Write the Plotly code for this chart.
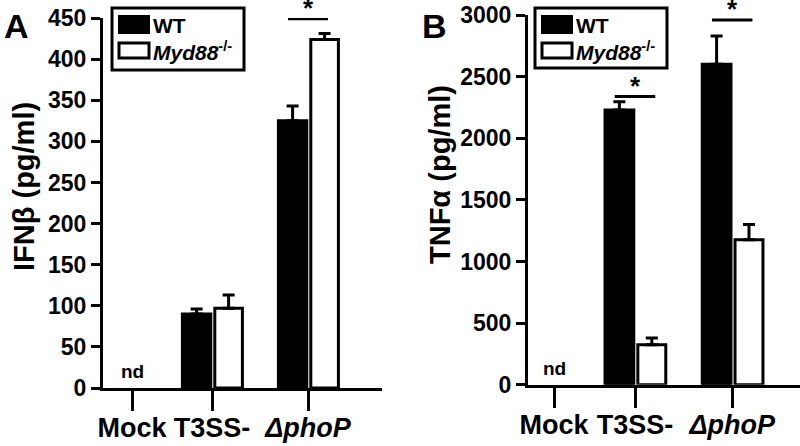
import plotly.graph_objects as go

W, H = 800, 446
FONT = "Liberation Sans, Arial, sans-serif"

# categories
groups = ["Mock", "T3SS-", "<i>ΔphoP</i>"]
group_pos = [0, 1, 2.2]

# panel A: IFN-beta (pg/ml), Mock not detected
ifnb_wt = [None, 90, 325]
ifnb_wt_err = [0, 6, 18]
ifnb_ko = [None, 97, 424]
ifnb_ko_err = [0, 16, 7]

# panel B: TNF-alpha (pg/ml)
tnfa_wt = [None, 2230, 2600]
tnfa_wt_err = [0, 67, 230]
tnfa_ko = [None, 325, 1177]
tnfa_ko_err = [0, 54, 122]

ifnb_ticks = [0, 50, 100, 150, 200, 250, 300, 350, 400, 450]
tnfa_ticks = [0, 500, 1000, 1500, 2000, 2500, 3000]

# significance bars: (group index, height)
ifnb_sig = [(2, 449)]
tnfa_sig = [(1, 2338), (2, 2960)]

series_names = ["WT", "<i>Myd88</i><sup>-/-</sup>"]


def px(x):
    return x / W


def py(y):
    return 1 - y / H


fig = go.Figure()


def add_panel(xa, ya, wt, wt_err, ko, ko_err, sig):
    fig.add_trace(go.Bar(
        x=group_pos, y=wt, xaxis=xa, yaxis=ya, offset=-0.37, width=0.355,
        marker=dict(color="black", line=dict(color="black", width=3)),
        error_y=dict(type="data", array=wt_err, arrayminus=[0] * 3, symmetric=False,
                     color="black", thickness=3, width=6),
        showlegend=False))
    fig.add_trace(go.Bar(
        x=group_pos, y=ko, xaxis=xa, yaxis=ya, offset=0.035, width=0.345,
        marker=dict(color="white", line=dict(color="black", width=3)),
        error_y=dict(type="data", array=ko_err, arrayminus=[0] * 3, symmetric=False,
                     color="black", thickness=3, width=6),
        showlegend=False))
    for gi, h in sig:
        c = group_pos[gi]
        fig.add_trace(go.Scatter(
            x=[c - 0.25, c + 0.25], y=[h, h], xaxis=xa, yaxis=ya, mode="lines",
            line=dict(color="black", width=3), cliponaxis=False, showlegend=False,
            hoverinfo="skip"))
        fig.add_annotation(x=c, y=h, xref=xa, yref=ya, text="*", showarrow=False,
                           yanchor="bottom", yshift=-6,
                           font=dict(family=FONT, size=26, color="black", weight="bold"))
    fig.add_annotation(x=group_pos[0], y=0, xref=xa, yref=ya, text="nd", showarrow=False,
                       yanchor="bottom", yshift=4,
                       font=dict(family=FONT, size=19, color="black", weight="bold"))


add_panel("x", "y", ifnb_wt, ifnb_wt_err, ifnb_ko, ifnb_ko_err, ifnb_sig)
add_panel("x2", "y2", tnfa_wt, tnfa_wt_err, tnfa_ko, tnfa_ko_err, tnfa_sig)

tickfont = dict(family=FONT, size=23, color="black", weight="bold")
catfont = dict(family=FONT, size=27, color="black", weight="bold")

xcommon = dict(tickmode="array", tickvals=group_pos, ticktext=groups, ticks="outside",
               ticklen=20, tickwidth=3, tickcolor="black", showline=True, linewidth=3,
               linecolor="black", showgrid=False, zeroline=False, tickfont=catfont,
               automargin=False, ticklabelstandoff=-6)
ycommon = dict(tickmode="array", ticks="outside", ticklen=9, tickwidth=3, tickcolor="black",
               showline=True, linewidth=3, linecolor="black", showgrid=False,
               zeroline=False, tickfont=tickfont, automargin=False)

fig.update_layout(
    template="none",
    width=W, height=H, margin=dict(l=0, r=0, t=0, b=0, pad=0),
    paper_bgcolor="white", plot_bgcolor="white", barmode="overlay",
    xaxis=dict(domain=[px(103), px(382)], range=[-0.3625, 3.125], anchor="y", **xcommon),
    yaxis=dict(domain=[py(388), py(18)], range=[0, 450], anchor="x",
               tickvals=ifnb_ticks, **ycommon),
    xaxis2=dict(domain=[px(528), 1.0], range=[-0.321, 3.037], anchor="y2", **xcommon),
    yaxis2=dict(domain=[py(384.7), py(15)], range=[0, 3000], anchor="x2",
                tickvals=tnfa_ticks, **ycommon),
)

# axis titles and panel letters
titles = [("IFNβ (pg/ml)", 24, 187), ("TNFα (pg/ml)", 440, 175)]
for t, x, y in titles:
    fig.add_annotation(x=px(x), y=py(y), xref="paper", yref="paper", text=t, textangle=-90,
                       showarrow=False, xanchor="center", yanchor="middle",
                       font=dict(family=FONT, size=29, color="black", weight="bold"))
for t, x, y in [("A", 16, 26), ("B", 434, 26)]:
    fig.add_annotation(x=px(x), y=py(y), xref="paper", yref="paper", text=t,
                       showarrow=False, xanchor="center", yanchor="middle",
                       font=dict(family=FONT, size=34, color="black", weight="bold"))

# hand drawn legends (large swatches)
for bx0, bx1, by1 in [(112, 244, 70), (535, 667, 68)]:
    fig.add_shape(type="rect", xref="paper", yref="paper", x0=px(bx0), x1=px(bx1),
                  y0=py(by1), y1=py(8), line=dict(color="black", width=3),
                  fillcolor="white", layer="above")
    sx = bx0 + 7
    fig.add_shape(type="rect", xref="paper", yref="paper", x0=px(sx), x1=px(sx + 30),
                  y0=py(33), y1=py(16), line=dict(color="black", width=2),
                  fillcolor="black", layer="above")
    fig.add_shape(type="rect", xref="paper", yref="paper", x0=px(sx), x1=px(sx + 30),
                  y0=py(58), y1=py(43), line=dict(color="black", width=3),
                  fillcolor="white", layer="above")
    for name, ty in zip(series_names, [25, 51]):
        fig.add_annotation(x=px(sx + 32), y=py(ty), xref="paper", yref="paper", text=name,
                           showarrow=False, xanchor="left", yanchor="middle",
                           font=dict(family=FONT, size=21, color="black", weight="bold"))

fig.write_html("out.html", config={"displayModeBar": False},
               post_script="document.body.style.margin='0';")
